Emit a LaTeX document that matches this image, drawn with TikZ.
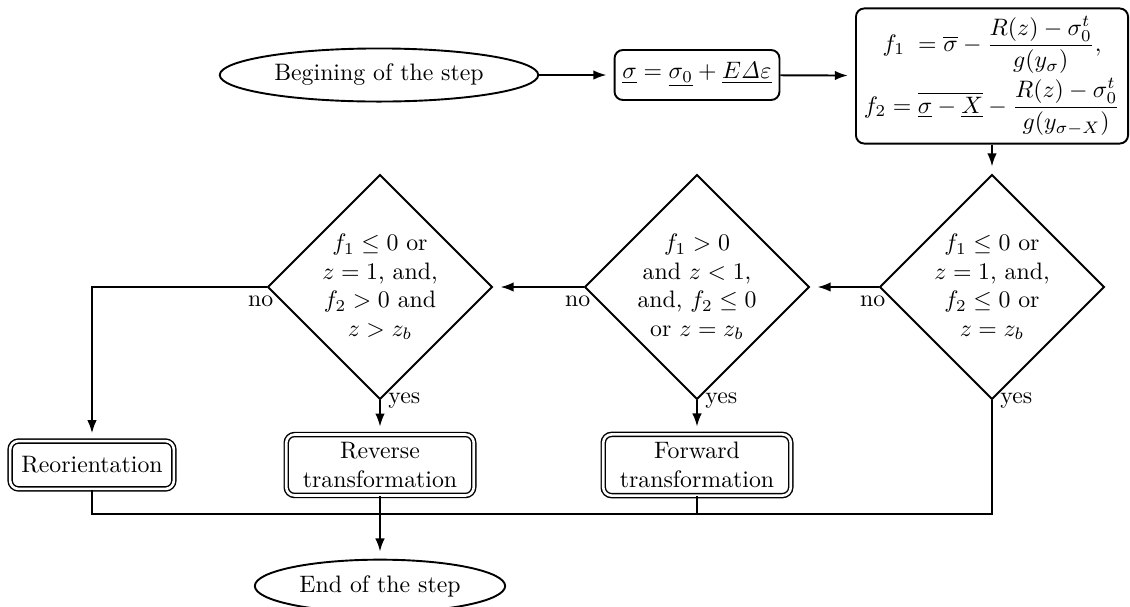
\documentclass[tikz,border=0pt]{standalone}
\usepackage{amsmath}
\usepackage{amssymb}
\usetikzlibrary{shapes.geometric, arrows.meta}

\tikzset{
    startstop/.style={ellipse, draw, thick},
    calcbox/.style={rectangle, rounded corners=3.5pt, draw, thick, align=center},
    test/.style={diamond, draw, thick, align=center, minimum size=94.5pt, inner sep=-2pt},
    outcome/.style={rectangle, rounded corners=3.5pt, draw, line width=0.6pt, double, double distance=1.1pt, align=center},
    link/.style={thick, -{Latex[length=5.5pt, width=4pt]}, shorten >=3pt},
}

\begin{document}
\begin{tikzpicture}[x=0.4202pt, y=-0.4202pt]
    \useasboundingbox (0,0) rectangle (1130,606);

    % Top row
    \node[startstop] (begin) at (379,75) {Begining of the step};
    \node[calcbox, minimum height=21pt] (sigma) at (697,75) {$\underline{\sigma}=\underline{\sigma_0}+\underline{E\mathit{\Delta}\varepsilon}$};
    \node[calcbox] (yield) at (992,76) {$f_1\;=\overline{\sigma}-\dfrac{R(z)-\sigma_0^t}{g(y_\sigma)},$\\[1pt]
        $f_2=\overline{\underline{\sigma}-\underline{X}}-\dfrac{R(z)-\sigma_0^t}{g(y_{\sigma-X})}$};

    % Tests
    \node[test] (d1) at (380,287) {$f_1\leq 0$ or\\ $z=1$, and,\\ $f_2>0$ and\\ $z>z_b$};
    \node[test] (d2) at (697,287) {$f_1>0$\\ and $z<1$,\\ and, $f_2\leq 0$\\ or $z=z_b$};
    \node[test] (d3) at (992,287) {$f_1\leq 0$ or\\ $z=1$, and,\\ $f_2\leq 0$ or\\ $z=z_b$};

    \node[below, xshift=-2.5pt] (no1) at (d1.west) {no};
    \node[below, xshift=-2.5pt] (no2) at (d2.west) {no};
    \node[below, xshift=-2.5pt] (no3) at (d3.west) {no};
    \node[right] (yes1) at (d1.south) {yes};
    \node[right] (yes2) at (d2.south) {yes};
    \node[right] (yes3) at (d3.south) {yes};

    % Outcomes
    \node[outcome, minimum width=68.8pt, minimum height=20.1pt] (reo) at (92,465) {Reorientation};
    \node[outcome, minimum width=78.8pt, minimum height=25.1pt] (rev) at (380,465) {Reverse\\transformation};
    \node[outcome, minimum width=78.8pt, minimum height=25.1pt] (fwd) at (697,465) {Forward\\transformation};
    \node[startstop] (end) at (380,586) {End of the step};
    \coordinate (join) at (380,514);

    % Connectors
    \draw[link] (begin) -- (sigma);
    \draw[link] (sigma) -- (yield);
    \draw[link] (yield) -- (d3);
    \draw[link] (d3) -- (d2);
    \draw[link] (d2) -- (d1);
    \draw[link] (d1.west) -| (reo);
    \draw[link] (d1) -- (rev);
    \draw[link] (d2) -- (fwd);
    \draw[thick] (reo) |- (join);
    \draw[thick] (fwd) |- (join);
    \draw[thick] (d3) |- (join);
    \draw[link] (rev) -- (end);
\end{tikzpicture}
\end{document}
